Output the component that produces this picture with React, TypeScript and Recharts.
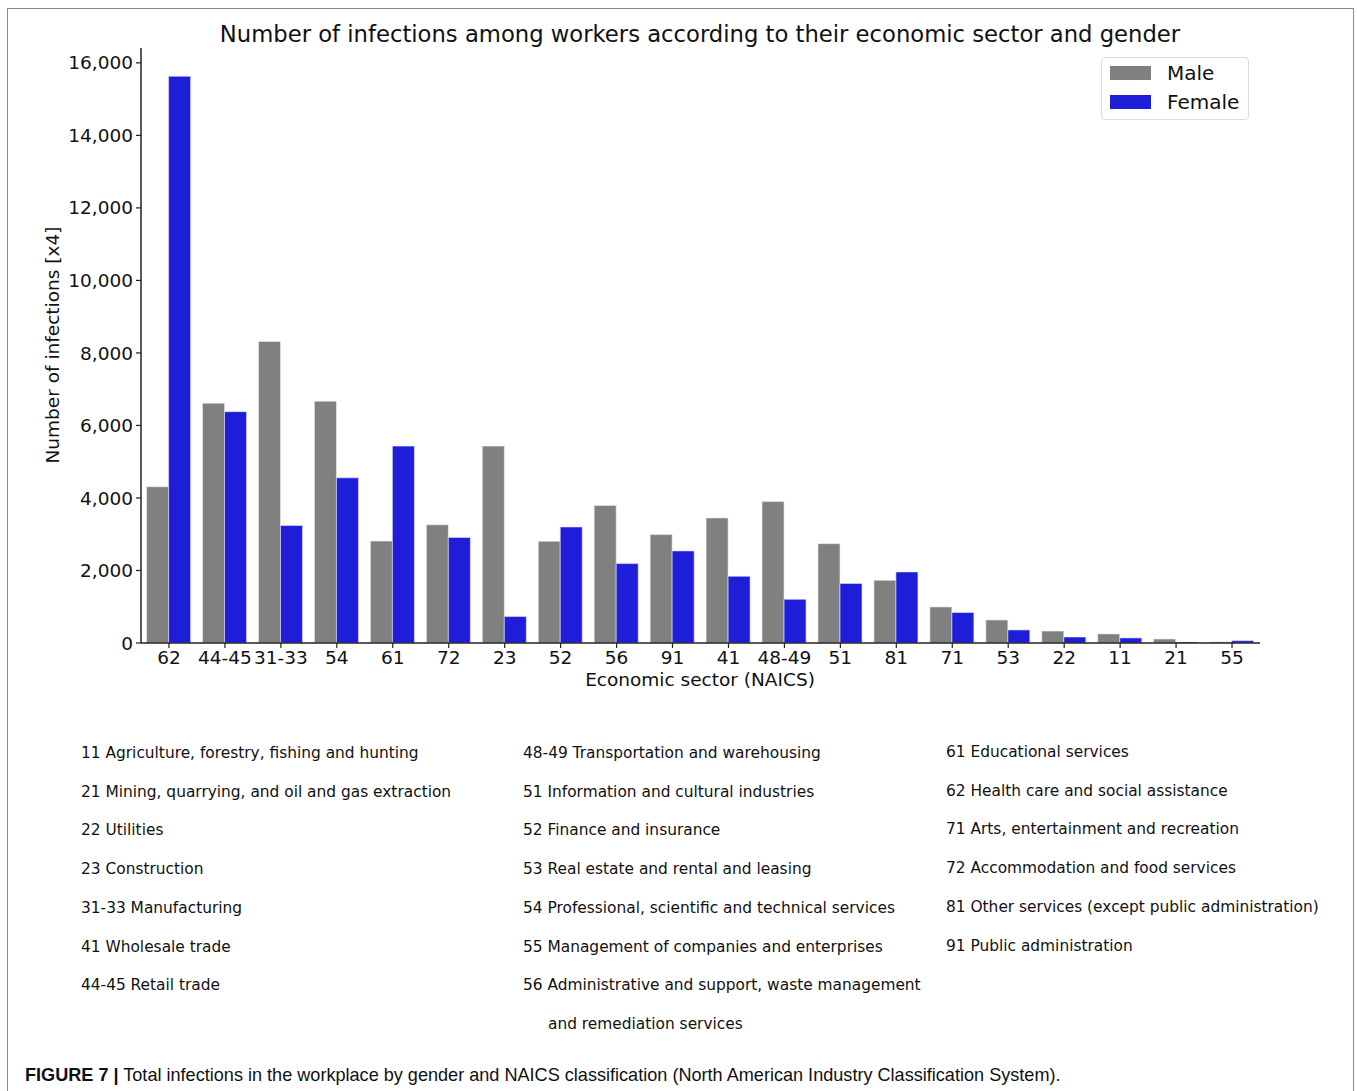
import React from "react";
import { BarChart, Bar, XAxis, YAxis, Legend } from "recharts";

const sectors = ["62", "44-45", "31-33", "54", "61", "72", "23", "52", "56", "91", "41", "48-49", "51", "81", "71", "53", "22", "11", "21", "55"];
const male = [4310, 6615, 8315, 6670, 2810, 3260, 5430, 2805, 3795, 2990, 3450, 3900, 2740, 1730, 995, 635, 330, 250, 110, 30];
const female = [15630, 6380, 3240, 4555, 5430, 2910, 730, 3200, 2190, 2540, 1840, 1205, 1640, 1960, 840, 360, 165, 140, 28, 65];
const yTicks = [0, 2000, 4000, 6000, 8000, 10000, 12000, 14000, 16000];

const namesLeft = [
  "11 Agriculture, forestry, fishing and hunting",
  "21 Mining, quarrying, and oil and gas extraction",
  "22 Utilities",
  "23 Construction",
  "31-33 Manufacturing",
  "41 Wholesale trade",
  "44-45 Retail trade",
];
const namesMiddle = [
  "48-49 Transportation and warehousing",
  "51 Information and cultural industries",
  "52 Finance and insurance",
  "53 Real estate and rental and leasing",
  "54 Professional, scientific and technical services",
  "55 Management of companies and enterprises",
  "56 Administrative and support, waste management",
  "and remediation services",
];
const namesRight = [
  "61 Educational services",
  "62 Health care and social assistance",
  "71 Arts, entertainment and recreation",
  "72 Accommodation and food services",
  "81 Other services (except public administration)",
  "91 Public administration",
];

const MALE_COLOR = "#808080";
const FEMALE_COLOR = "#1e1ed9";
const FONT = "'DejaVu Sans', sans-serif";

const data = sectors.map((s, i) => ({ sector: s, Male: male[i], Female: female[i] }));

const renderLegend = () => (
  <div
    style={{
      width: 146,
      height: 61,
      border: "1px solid #dcdcdc",
      borderRadius: 4,
      background: "#fff",
      fontFamily: FONT,
      fontSize: 20,
      position: "relative",
    }}
  >
    {[
      { label: "Male", color: MALE_COLOR, top: 8 },
      { label: "Female", color: FEMALE_COLOR, top: 37 },
    ].map((item) => (
      <div key={item.label}>
        <div style={{ position: "absolute", left: 8, top: item.top, width: 41, height: 14, background: item.color }} />
        <div style={{ position: "absolute", left: 65, top: item.top - 5, lineHeight: "24px", color: "#111" }}>{item.label}</div>
      </div>
    ))}
  </div>
);

const NameColumn = ({ items, left, top, step }: { items: string[]; left: number; top: number; step: number }) => (
  <>
    {items.map((t, i) => (
      <div
        key={t}
        style={{
          position: "absolute",
          left: t.startsWith("and ") ? left + 25 : left,
          top: top + i * step - 10,
          lineHeight: "20px",
          fontSize: 15.4,
          fontFamily: FONT,
          color: "#111",
          whiteSpace: "nowrap",
        }}
      >
        {t}
      </div>
    ))}
  </>
);

export default function App() {
  return (
    <div style={{ position: "absolute", left: 0, top: 0, width: 1357, height: 1091, background: "#fff", overflow: "hidden" }}>
      <div
        style={{
          position: "absolute",
          left: 7,
          top: 8,
          width: 1345,
          height: 1100,
          borderLeft: "1.5px solid #8a8a8a",
          borderTop: "1.5px solid #8a8a8a",
          borderRight: "1.5px solid #8a8a8a",
        }}
      />
      <div
        style={{
          position: "absolute",
          left: 0,
          width: 1400,
          top: 20,
          textAlign: "center",
          fontFamily: FONT,
          fontSize: 22.7,
          lineHeight: "28px",
          color: "#111",
        }}
      >
        Number of infections among workers according to their economic sector and gender
      </div>
      <div
        style={{
          position: "absolute",
          left: 53 - 150,
          top: 345 - 12,
          width: 300,
          textAlign: "center",
          transform: "rotate(-90deg)",
          fontFamily: FONT,
          fontSize: 18.5,
          lineHeight: "24px",
          color: "#111",
        }}
      >
        Number of infections [x4]
      </div>
      <div
        style={{
          position: "absolute",
          left: 500,
          width: 400,
          top: 668,
          textAlign: "center",
          fontFamily: FONT,
          fontSize: 18.5,
          lineHeight: "24px",
          color: "#111",
        }}
      >
        Economic sector (NAICS)
      </div>
      <div style={{ position: "absolute", left: 0, top: 0 }}>
        <BarChart
          width={1357}
          height={700}
          data={data}
          margin={{ top: 48, right: 97, bottom: 27, left: 61 }}
          barCategoryGap="10%"
          barGap={0}
        >
          <XAxis
            dataKey="sector"
            interval={0}
            tickSize={5}
            tickMargin={3}
            axisLine={{ stroke: "#222", strokeWidth: 1.5 }}
            tickLine={{ stroke: "#222", strokeWidth: 1.2 }}
            tick={{ fill: "#111", fontSize: 18.5, fontFamily: FONT }}
            height={30}
          />
          <YAxis
            domain={[0, 16410]}
            ticks={yTicks}
            allowDataOverflow
            width={80}
            tickSize={5}
            tickMargin={3}
            axisLine={{ stroke: "#222", strokeWidth: 1.5 }}
            tickLine={{ stroke: "#222", strokeWidth: 1.2 }}
            tick={{ fill: "#111", fontSize: 18.5, fontFamily: FONT }}
            tickFormatter={(v: number) => v.toLocaleString("en-US")}
          />
          <Legend
            content={renderLegend}
            layout="horizontal"
            verticalAlign="middle"
            align="center"
            wrapperStyle={{ position: "absolute", left: 1101, top: 57, width: 148 }}
          />
          <Bar dataKey="Male" fill={MALE_COLOR} stroke="#ececec" strokeWidth={0.6} isAnimationActive={false} />
          <Bar dataKey="Female" fill={FEMALE_COLOR} stroke="#e4e4f8" strokeWidth={0.6} isAnimationActive={false} />
        </BarChart>
      </div>
      <NameColumn items={namesLeft} left={81} top={753} step={38.7} />
      <NameColumn items={namesMiddle} left={523} top={753} step={38.7} />
      <NameColumn items={namesRight} left={946} top={752} step={38.7} />
      <div
        style={{
          position: "absolute",
          left: 25,
          top: 1063,
          fontFamily: "'Liberation Sans', Arial, sans-serif",
          fontSize: 18.1,
          lineHeight: "24px",
          color: "#111",
          whiteSpace: "nowrap",
        }}
      >
        <b>FIGURE 7 |</b> Total infections in the workplace by gender and NAICS classification (North American Industry Classification System).
      </div>
    </div>
  );
}
